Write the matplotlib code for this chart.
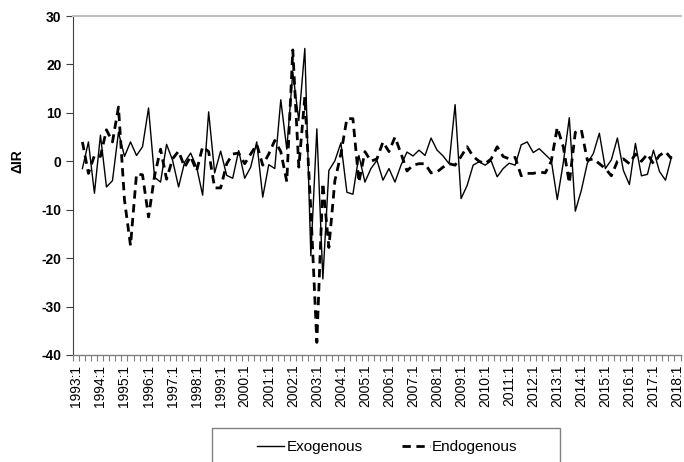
import numpy as np
import matplotlib
matplotlib.use('Agg')
import matplotlib.pyplot as plt
from matplotlib.patches import Rectangle

plt.rcParams['font.family'] = ['Liberation Sans', 'DejaVu Sans']
plt.rcParams['axes.unicode_minus'] = False

# quarterly categories 1993:1 .. 2018:1, labels on every first quarter
tick_labels = ['1993:1', '1994:1', '1995:1', '1996:1', '1997:1', '1998:1', '1999:1',
               '2000:1', '2001:1', '2002:1', '2003:1', '2004:1', '2005:1', '2006:1',
               '2007:1', '2008:1', '2009:1', '2010:1', '2011:1', '2012:1', '2013:1',
               '2014:1', '2015:1', '2016:1', '2017:1', '2018:1']
n_quarters = 101
first_obs = 1  # series start at 1993:2 (differences)

exogenous = [
    -1.5, 4.0, -6.6, 5.4, -5.3, -4.0, 6.0, 1.0, 4.0, 1.2,
    3.0, 11.0, -3.3, -4.3, 3.5, 0.2, -5.3, -0.2, 1.7, -1.2,
    -7.0, 10.2, -2.4, 2.1, -2.9, -3.5, 2.2, -3.5, -1.2, 4.0,
    -7.4, -0.7, -1.5, 12.7, 2.5, 18.4, 8.4, 23.3, -19.5, 6.7,
    -24.3, -1.9, 0.1, 3.8, -6.4, -6.8, 1.2, -4.3, -1.5, 0.2,
    -3.9, -1.5, -4.3, -0.8, 1.9, 1.1, 2.3, 1.2, 4.8, 2.3,
    1.1, -0.5, 11.7, -7.7, -5.0, -0.8, -0.1, -0.8, 0.1, -3.2,
    -1.5, -0.4, -0.8, 3.4, 4.0, 1.8, 2.6, 1.4, 0.2, -7.9,
    -0.3, 9.0, -10.3, -6.0, -0.4, 1.6, 5.8, -1.5, 0.3, 4.8,
    -1.9, -4.8, 3.7, -3.0, -2.7, 2.3, -2.1, -3.9, 0.9,
]
endogenous = [
    4.0, -2.5, 1.2, 1.0, 6.5, 4.0, 11.2, -8.0, -17.4, -2.6,
    -2.8, -11.5, -3.0, 2.5, -3.7, 0.5, 2.1, -1.2, 1.0, -2.0,
    3.0, 2.0, -5.5, -5.5, -0.5, 1.5, 1.7, -0.5, 1.5, 3.5,
    -0.8, 1.5, 4.3, 2.0, -4.2, 23.0, -1.2, 13.3, -10.0, -37.4,
    -4.5, -17.8, -4.0, 1.5, 8.8, 8.8, -4.3, 2.0, 0.0, 0.5,
    4.0, 2.0, 5.0, 1.6, -2.0, -0.8, -0.5, -0.5, -2.4, -2.2,
    -1.2, -0.5, -0.8, 1.0, 3.0, 1.0, 0.0, -0.5, 0.5, 3.0,
    1.0, 0.5, 0.8, -3.0, -2.5, -2.5, -2.2, -2.4, 0.0, 7.0,
    3.0, -4.5, 6.0, 6.5, 0.2, 0.5, -0.5, -1.5, -3.0, 0.0,
    0.5, -0.5, 1.5, 0.0, 1.5, -0.5, 1.2, 2.0, 0.5,
]

W, H = 684, 462
fig = plt.figure(figsize=(W / 100, H / 100), dpi=100)
ax = fig.add_axes([73.4 / W, 1 - 355 / H, (680.5 - 73.4) / W, (355 - 16) / H])

x = np.arange(first_obs, first_obs + len(exogenous))
ax.plot(x, exogenous, color='black', lw=1.0, label='Exogenous')
ax.plot(x, endogenous, color='black', lw=2.0, ls=(0, (3, 2)), label='Endogenous')

ax.set_xlim(-0.5, n_quarters - 0.5)
ax.set_ylim(-40, 30)
ax.set_yticks(range(-40, 31, 10))
ax.set_xticks(range(0, n_quarters, 4))
ax.set_xticklabels(tick_labels, rotation=90, fontsize=10)
ax.set_xticks(np.arange(-0.5, n_quarters, 1), minor=True)
ax.tick_params(axis='x', which='major', length=0, pad=7)
ax.tick_params(axis='x', which='minor', length=4, color='#808080', width=0.8)
ax.tick_params(axis='y', length=5, color='#404040', width=0.8, labelsize=10)
for lab in ax.get_yticklabels():
    lab.set_fontweight('bold')

ax.spines['right'].set_visible(False)
ax.spines['top'].set_color('#c0c0c0')
ax.spines['top'].set_linewidth(1.5)
ax.spines['left'].set_color('#404040')
ax.spines['left'].set_linewidth(0.8)
ax.spines['bottom'].set_color('#808080')
ax.spines['bottom'].set_linewidth(1.0)

fig.text(17 / W, 1 - 161 / H, '\u0394IR', rotation=90, ha='center', va='center',
         fontsize=10, fontweight='bold')

# legend box (runs off the bottom edge as in the source)
fig.add_artist(Rectangle((212 / W, 1 - 475 / H), (560 - 212) / W, (475 - 428) / H,
                         transform=fig.transFigure, fill=False, edgecolor='#808080', lw=1.0))
handles, labels = ax.get_legend_handles_labels()
fig.legend(handles, labels, loc='center', bbox_to_anchor=(387 / W, 1 - 447 / H), ncol=2,
           frameon=False, handlelength=1.8, handletextpad=0.15, columnspacing=2.6, fontsize=11)

fig.savefig('out.png', dpi=100)
